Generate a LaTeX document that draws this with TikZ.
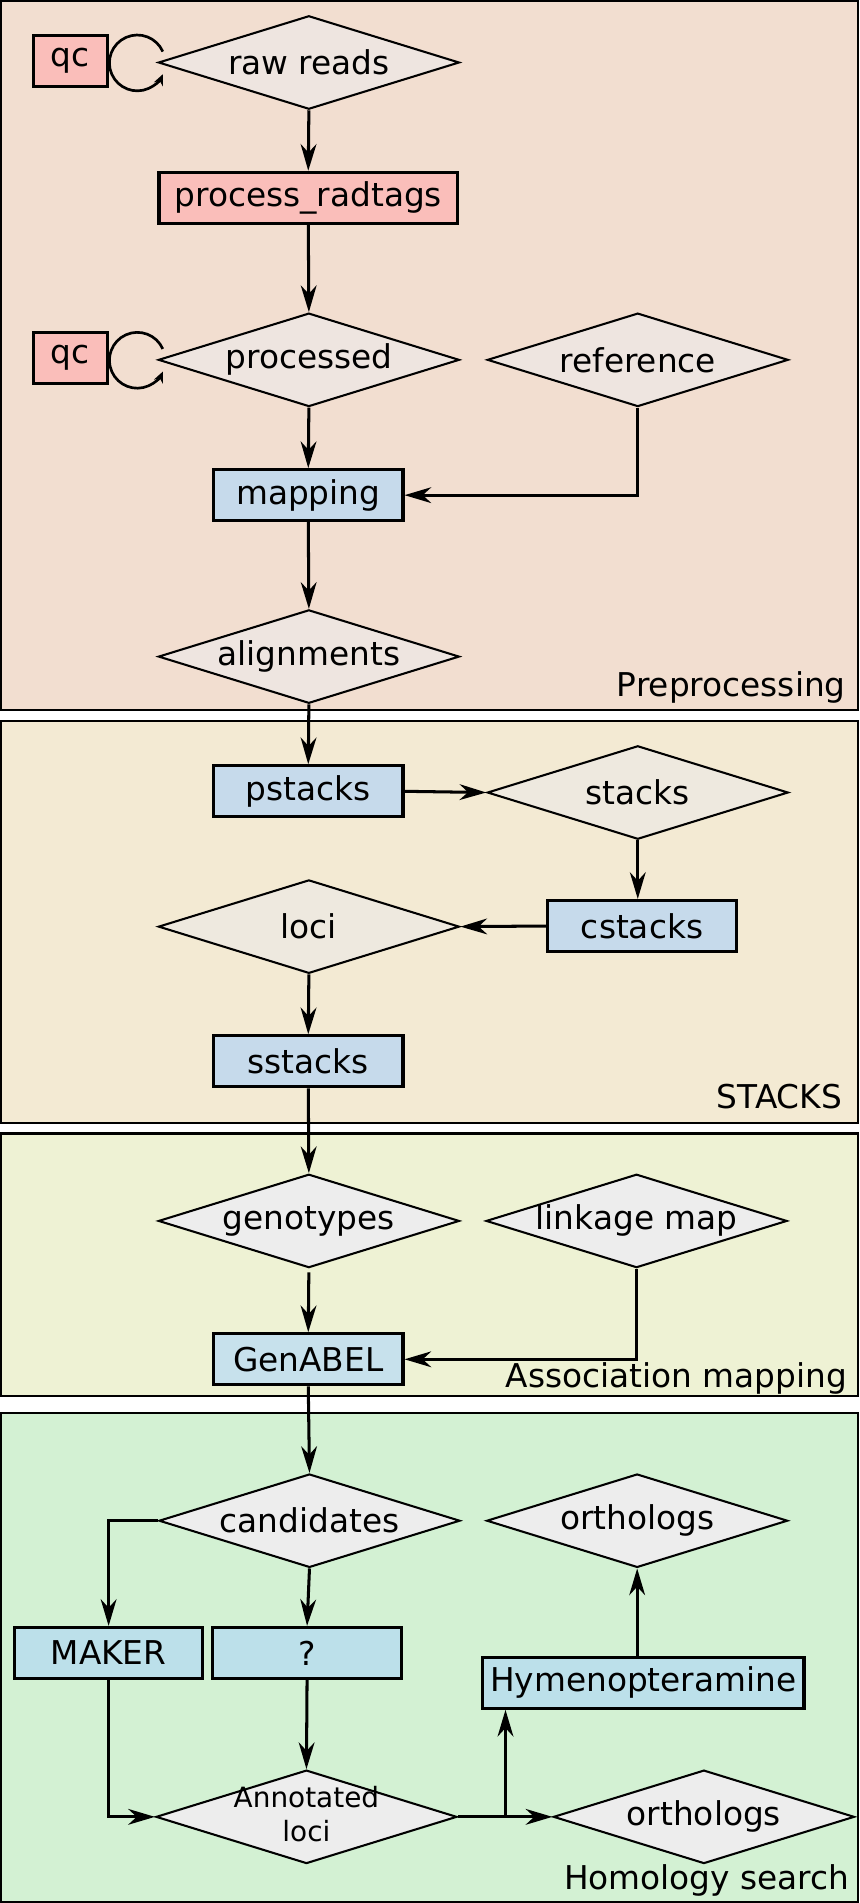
\documentclass[tikz,border=0pt]{standalone}
\usepackage{fontspec}
\setmainfont{DejaVu Sans}
\usetikzlibrary{shapes.geometric,arrows.meta}
\definecolor{prebg}{HTML}{F2DED0}
\definecolor{stabg}{HTML}{F3EAD3}
\definecolor{assbg}{HTML}{EEF2D4}
\definecolor{hombg}{HTML}{D3F1D3}
\definecolor{diapre}{HTML}{EEE5E0}
\definecolor{diasta}{HTML}{EEE9DF}
\definecolor{diagrey}{HTML}{EDEDED}
\definecolor{pinkbox}{HTML}{FABEBA}
\definecolor{bluebox}{HTML}{C6DAEB}
\definecolor{genbox}{HTML}{C7E1EC}
\definecolor{cyanbox}{HTML}{BCE0EA}
\newcommand\dtext[1]{\makebox[0pt]{#1}}
\begin{document}
\begin{tikzpicture}[x=1pt,y=-1pt,
  every node/.style={font=\fontsize{27pt}{32pt}\selectfont},
  panel/.style={draw, line width=1.8pt},
  dia/.style={shape=diamond, draw, line width=1.7pt, minimum width=248pt, minimum height=77pt, inner sep=0pt},
  box/.style={draw, line width=2.6pt, minimum width=156pt, minimum height=42pt, inner sep=2pt},
  lbl/.style={anchor=base east, inner sep=0pt},
  arr/.style={line width=2.5pt, -{Stealth[length=22pt,width=13pt,inset=7pt]}},
  looparr/.style={line width=2.2pt, -{Stealth[length=9pt,width=8pt,inset=3pt]}}]
\useasboundingbox (0,0) rectangle (708,1568);
% panels
\draw[panel, fill=prebg] (1,1) rectangle (707,585);
\draw[panel, fill=stabg] (1,594) rectangle (707,925);
\draw[panel, fill=assbg] (1,934) rectangle (707,1150);
\draw[panel, fill=hombg] (1,1164) rectangle (707,1567);
% Preprocessing
\node[box, fill=pinkbox, minimum width=61pt] (qc1) at (58,50) {qc};
\node[dia, fill=diapre] (raw) at (254.5,51.5) {\dtext{raw reads}};
\node[box, fill=pinkbox, minimum width=246pt] (prad) at (254,163) {process\_radtags};
\node[box, fill=pinkbox, minimum width=61pt] (qc2) at (58,295) {qc};
\node[dia, fill=diapre] (proc) at (254.5,296.5) {\dtext{processed}};
\node[dia, fill=diapre] (ref) at (525.5,296.5) {\dtext{reference}};
\node[box, fill=bluebox] (map) at (254,408) {mapping};
\node[dia, fill=diapre] (aln) at (254.5,541) {\dtext{alignments}};
\node[lbl] (l1) at (697,574) {Preprocessing};
% STACKS
\node[box, fill=bluebox] (pst) at (254,652) {pstacks};
\node[dia, fill=diasta] (stk) at (525.5,653) {\dtext{stacks}};
\node[box, fill=bluebox] (cst) at (529,763) {cstacks};
\node[dia, fill=diasta] (loci) at (254.5,763.5) {\dtext{loci}};
\node[box, fill=bluebox] (sst) at (254,874.5) {sstacks};
\node[lbl] (l2) at (694,913) {STACKS};
% Association mapping
\node[dia, fill=diagrey] (geno) at (254.5,1006) {\dtext{genotypes}};
\node[dia, fill=diagrey] (link) at (524.5,1006) {\dtext{linkage map}};
\node[box, fill=genbox] (gen) at (254,1120) {GenABEL};
\node[lbl] (l3) at (698,1143) {Association mapping};
% Homology search
\node[dia, fill=diagrey] (cand) at (255,1253) {\dtext{candidates}};
\node[dia, fill=diagrey] (orth1) at (525,1253) {\dtext{orthologs}};
\node[box, fill=cyanbox, minimum width=155pt] (maker) at (89.5,1362) {MAKER};
\node[box, fill=cyanbox] (q) at (253,1362) {?};
\node[box, fill=cyanbox, minimum width=265pt] (hym) at (530,1386.5) {Hymenopteramine};
\node[dia, fill=diagrey] (ann) at (252.5,1497) {\dtext{\fontsize{23pt}{30pt}\selectfont\begin{tabular}{@{}c@{}}Annotated\\[-2pt]loci\end{tabular}}};
\node[dia, fill=diagrey] (orth2) at (580,1497) {\dtext{orthologs}};
\node[lbl] (l4) at (700,1557) {Homology search};
% self loops
\draw[looparr] ([shift={(4.5,-9)}]raw.west) arc[start angle=24, end angle=336, radius=23pt];
\draw[looparr] ([shift={(4.5,-9)}]proc.west) arc[start angle=24, end angle=336, radius=23pt];
% connectors
\draw[arr] (raw.south) -- (prad.north);
\draw[arr] (prad.south) -- (proc.north);
\draw[arr] (proc.south) -- (map.north);
\draw[arr] (ref.south) |- (map.east);
\draw[arr] (map.south) -- (aln.north);
\draw[arr] (aln.south) -- (pst.north);
\draw[arr] (pst.east) -- (stk.west);
\draw[arr] (stk.south) -- (stk.south |- cst.north);
\draw[arr] (cst.west) -- (loci.east);
\draw[arr] (loci.south) -- (sst.north);
\draw[arr] (sst.south) -- (geno.north);
\draw[arr, shorten <=3pt] (geno.south) -- (gen.north);
\draw[arr] (link.south) |- (gen.east);
\draw[arr] (gen.south) -- (cand.north);
\draw[arr] (cand.west) -| (maker.north);
\draw[arr] (cand.south) -- (q.north);
\draw[arr] (orth1.south |- hym.north) -- (orth1.south);
\draw[arr] (q.south) -- (ann.north);
\draw[arr] (maker.south) |- (ann.west);
\draw[arr] (ann.east) -- (orth2.west);
\coordinate (br) at (416.5,1497);
\draw[arr] (br) -- (br |- hym.south);
\end{tikzpicture}
\end{document}
